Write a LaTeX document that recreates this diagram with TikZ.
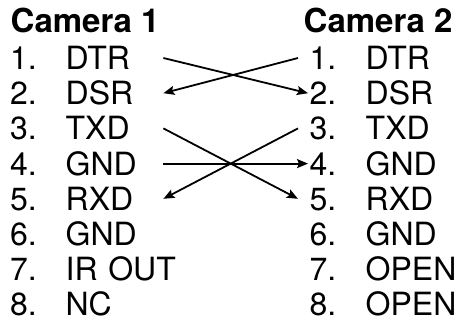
\documentclass[tikz,border=0pt]{standalone}
\usepackage{fontspec}
\setmainfont{TeX Gyre Heros}
\usetikzlibrary{arrows.meta}

\begin{document}
\begin{tikzpicture}[x=1pt, y=-1pt,
        pinleft/.style={anchor=base west, inner sep=0pt, text width=153pt, align=left,
            text height=23pt, text depth=0pt, font=\fontsize{32}{38}\selectfont},
        pinright/.style={pinleft, text width=160pt},
        camhead/.style={anchor=base west, inner sep=0pt, font=\fontsize{33}{40}\selectfont\bfseries},
        wire/.style={line width=1.8pt, -{Stealth[length=11pt, width=9pt, inset=2pt]}}]

    \useasboundingbox (0,0) rectangle (463,321);

    % 1. Headers
    \node[camhead] (cam1) at (10.5,33) {Camera 1};
    \node[camhead] (cam2) at (303.5,33) {Camera 2};

    % 2. Pin rows of both cameras
    \foreach \i/\lname/\rname in {
        1/DTR/DTR, 2/DSR/DSR, 3/TXD/TXD, 4/GND/GND,
        5/RXD/RXD, 6/GND/GND, 7/IR OUT/OPEN, 8/NC/OPEN
    } {
        \node[pinleft] (L\i) at (10,{69.5+35.2*(\i-1)}) {\mbox{\makebox[55.5pt][l]{\i.}\lname}};
        \node[pinright] (R\i) at (298,{69.5+35.2*(\i-1)}) {\mbox{\hspace*{11.5pt}\makebox[56pt][l]{\i.}\rname}};
    }

    % 3. Crossed wires
    \draw[wire] (L1.east) -- ([xshift=10pt]R2.west);
    \draw[wire] (R1.west) -- (L2.east);
    \draw[wire] (L3.east) -- (R5.west);
    \draw[wire] (R3.west) -- (L5.east);
    \draw[wire] (L4.east) -- ([xshift=10pt]R4.west);

\end{tikzpicture}
\end{document}
